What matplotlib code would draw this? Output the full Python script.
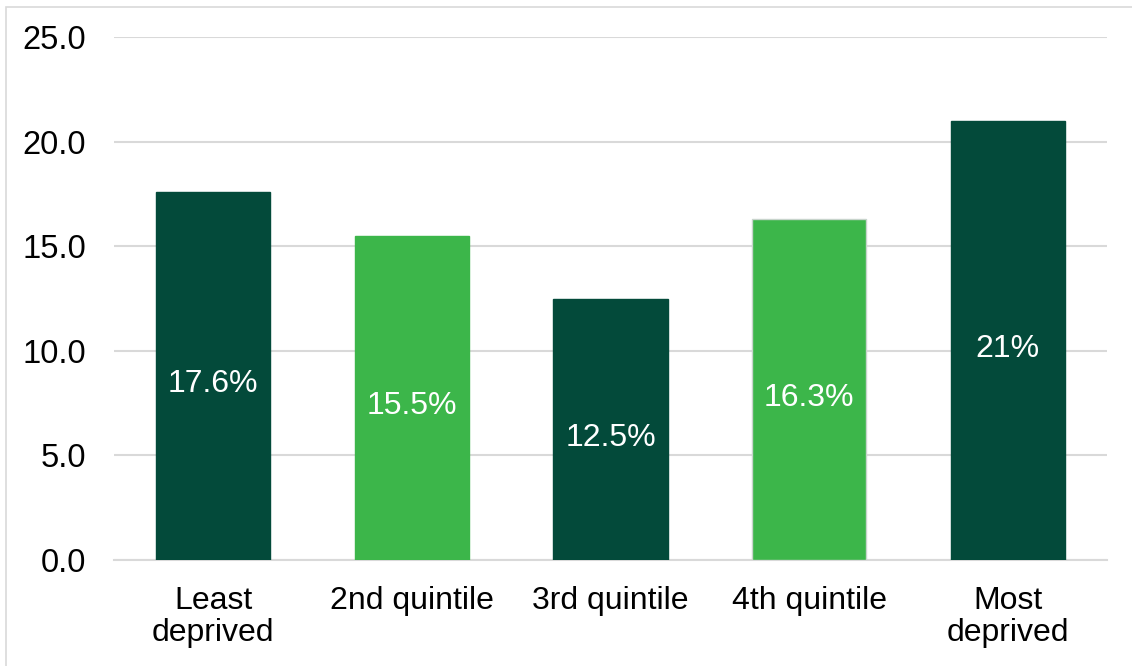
import matplotlib.pyplot as plt
from matplotlib.patches import Rectangle

categories = ["Least\ndeprived", "2nd quintile", "3rd quintile", "4th quintile", "Most\ndeprived"]
values = [17.6, 15.5, 12.5, 16.3, 21]
labels = ["17.6%", "15.5%", "12.5%", "16.3%", "21%"]
colors = ["#034A3A", "#3CB64A", "#034A3A", "#3CB64A", "#034A3A"]
edges = ["#034A3A", "#3CB64A", "#034A3A", "#C8D4CC", "#034A3A"]

plt.rcParams['font.family'] = ['Liberation Sans', 'DejaVu Sans']

W, H = 1132, 666
fig = plt.figure(figsize=(W / 100, H / 100), dpi=100)
ax = fig.add_axes([114 / W, 1 - 560 / H, (1107 - 114) / W, (560 - 37) / H])

x = range(len(values))
bars = ax.bar(x, values, width=0.575, color=colors, edgecolor=edges, linewidth=1, zorder=3)

for i, v in enumerate(values):
    ax.annotate(labels[i], (i, v / 2), xytext=(0, -6), textcoords='offset points',
                ha='center', va='center', color='white', fontsize=23, zorder=4)

ax.set_xlim(-0.5, len(values) - 0.5)
ax.set_ylim(0, 25)
ax.set_yticks([0, 5, 10, 15, 20, 25])
ax.set_yticklabels(["%.1f" % t for t in [0, 5, 10, 15, 20, 25]], fontsize=23.5)
ax.set_xticks(list(x))
ax.set_xticklabels(categories, fontsize=23, linespacing=1.07)
ax.tick_params(axis='both', length=0, colors='black')
ax.tick_params(axis='y', pad=20)
ax.tick_params(axis='x', pad=19)
ax.grid(axis='y', color='#D9D9D9', linewidth=1.5, zorder=0)
for s in ['top', 'right', 'left']:
    ax.spines[s].set_visible(False)
ax.spines['bottom'].set_color('#D9D9D9')
ax.spines['bottom'].set_linewidth(1.5)

# chart border
fig.patches.append(Rectangle((6 / W, -0.1), 1.2, 1 - 7 / H + 0.1, transform=fig.transFigure,
                             fill=False, edgecolor='#D9D9D9', linewidth=1.2))

fig.savefig("out.png", dpi=100)
